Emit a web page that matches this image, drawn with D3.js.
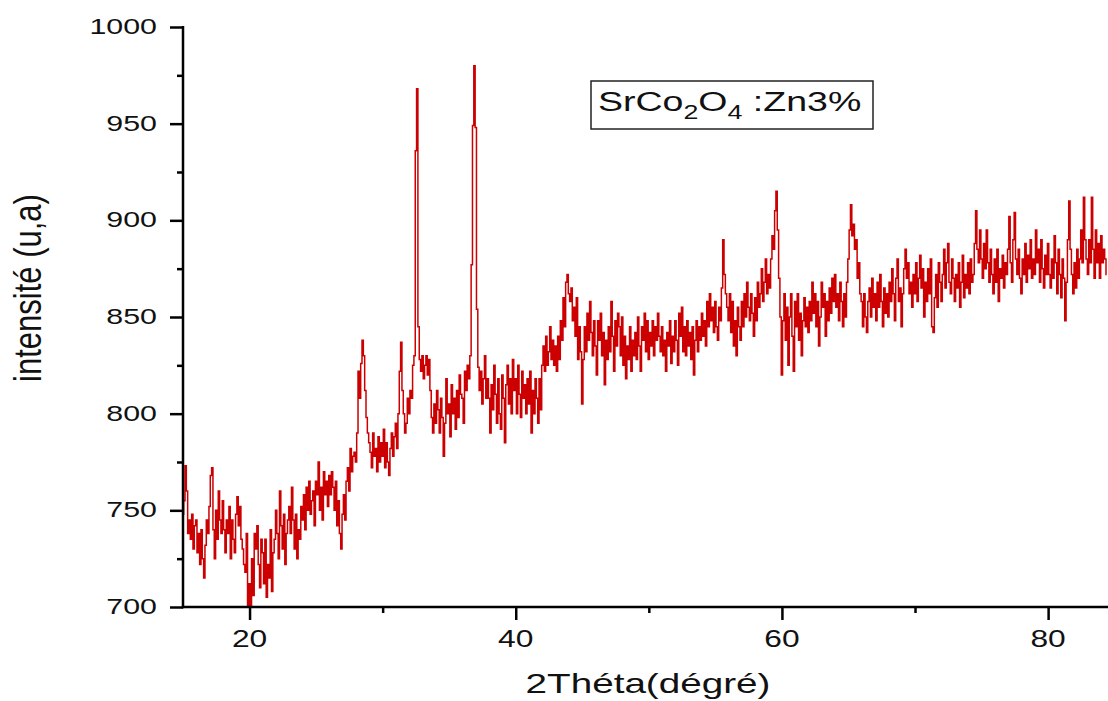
<!DOCTYPE html>
<html>
<head>
<meta charset="utf-8">
<script src="https://cdn.jsdelivr.net/npm/d3@7"></script>
<style>
  html, body { margin: 0; padding: 0; background: #fff; }
  svg { display: block; }
  text { font-family: "Liberation Sans", Arial, sans-serif; fill: #111; }
</style>
</head>
<body>
<svg id="chart" width="1108" height="701"></svg>
<script>
// ---- data, one row per degree, step 0.1 ----
const xStart = 15.0;
const xStep = 0.1;
const intensity = [
  748, 755, 773, 760, 738, 745, 735, 748, 730, 742,  // 15
  745, 728, 738, 722, 740, 725, 715, 732, 745, 738,  // 16
  752, 768, 772, 740, 725, 750, 735, 760, 745, 738,  // 17
  755, 740, 728, 745, 738, 752, 725, 745, 735, 728,  // 18
  748, 757, 742, 752, 735, 730, 722, 718, 738, 700,  // 19
  712, 698, 725, 706, 738, 730, 742, 722, 710, 735,  // 20
  728, 712, 735, 705, 722, 715, 740, 708, 728, 735,  // 21
  750, 738, 725, 760, 742, 730, 748, 722, 738, 745,  // 22
  752, 738, 762, 745, 730, 748, 725, 740, 735, 752,  // 23
  745, 758, 740, 762, 750, 765, 748, 755, 760, 742,  // 24
  765, 758, 775, 750, 762, 745, 770, 758, 765, 752,  // 25
  768, 758, 770, 762, 750, 765, 742, 755, 738, 730,  // 26
  748, 758, 745, 765, 772, 760, 782, 770, 778, 780,  // 27
  775, 790, 822, 808, 826, 838, 830, 812, 798, 790,  // 28
  785, 780, 772, 790, 778, 782, 770, 788, 775, 785,  // 29
  778, 792, 772, 785, 775, 768, 782, 790, 778, 788,  // 30
  795, 782, 800, 822, 837, 812, 800, 790, 795, 808,  // 31
  800, 812, 808, 825, 830, 936, 968, 845, 828, 822,  // 32
  830, 818, 825, 830, 820, 828, 812, 798, 790, 805,  // 33
  795, 812, 802, 790, 808, 798, 778, 795, 818, 800,  // 34
  805, 788, 815, 800, 808, 792, 812, 798, 820, 810,  // 35
  808, 795, 822, 812, 825, 818, 830, 877, 949, 980,  // 36
  948, 854, 824, 812, 822, 805, 818, 830, 808, 818,  // 37
  808, 790, 815, 802, 825, 810, 795, 818, 800, 792,  // 38
  820, 808, 785, 815, 825, 805, 818, 800, 828, 812,  // 39
  818, 800, 825, 810, 798, 822, 808, 815, 800, 818,  // 40
  805, 822, 790, 812, 800, 818, 808, 795, 818, 802,  // 41
  825, 835, 822, 840, 825, 832, 845, 828, 838, 825,  // 42
  835, 822, 840, 828, 848, 838, 860, 845, 868, 872,  // 43
  862, 858, 865, 848, 855, 840, 860, 828, 845, 832,  // 44
  805, 828, 845, 832, 852, 838, 858, 842, 830, 848,  // 45
  835, 820, 848, 838, 852, 830, 842, 815, 838, 828,  // 46
  845, 832, 858, 840, 822, 848, 835, 852, 845, 830,  // 47
  850, 825, 840, 818, 835, 828, 845, 822, 838, 830,  // 48
  842, 828, 850, 835, 822, 845, 838, 852, 832, 848,  // 49
  828, 842, 835, 848, 830, 845, 838, 852, 840, 832,  // 50
  845, 830, 838, 822, 842, 835, 848, 826, 840, 832,  // 51
  848, 838, 825, 852, 840, 855, 832, 845, 830, 848,  // 52
  835, 842, 828, 845, 820, 838, 848, 832, 845, 838,  // 53
  852, 840, 848, 835, 858, 845, 862, 848, 855, 842,  // 54
  858, 845, 838, 855, 848, 865, 890, 872, 862, 855,  // 55
  848, 862, 842, 858, 835, 848, 830, 855, 845, 838,  // 56
  858, 845, 862, 850, 868, 855, 848, 862, 852, 840,  // 57
  860, 848, 868, 855, 862, 875, 858, 868, 880, 862,  // 58
  872, 865, 880, 892, 885, 905, 915, 895, 870, 850,  // 59
  820, 848, 862, 838, 855, 825, 850, 862, 840, 822,  // 60
  858, 845, 862, 838, 852, 830, 848, 860, 845, 855,  // 61
  842, 858, 848, 868, 852, 862, 845, 858, 835, 850,  // 62
  868, 855, 862, 840, 858, 848, 865, 852, 870, 858,  // 63
  872, 855, 862, 848, 868, 858, 845, 862, 850, 868,  // 64
  880, 895, 908, 892, 898, 885, 890, 870, 878, 862,  // 65
  858, 845, 862, 850, 842, 858, 865, 850, 870, 855,  // 66
  862, 848, 868, 855, 872, 858, 845, 865, 852, 862,  // 67
  850, 868, 858, 875, 862, 848, 870, 880, 858, 865,  // 68
  845, 862, 875, 885, 870, 878, 862, 868, 855, 872,  // 69
  862, 878, 858, 870, 882, 865, 875, 850, 868, 858,  // 70
  875, 862, 880, 845, 842, 860, 872, 855, 878, 868,  // 71
  858, 872, 885, 865, 878, 888, 868, 862, 880, 870,  // 72
  858, 872, 865, 878, 855, 868, 882, 860, 872, 865,  // 73
  878, 862, 880, 868, 872, 888, 905, 885, 878, 895,  // 74
  880, 870, 888, 875, 895, 878, 868, 885, 872, 862,  // 75
  880, 868, 885, 858, 875, 870, 882, 865, 878, 872,  // 76
  885, 902, 878, 868, 890, 904, 880, 872, 885, 870,  // 77
  862, 880, 872, 888, 868, 882, 875, 890, 870, 880,  // 78
  872, 895, 878, 885, 868, 890, 875, 865, 882, 872,  // 79
  888, 872, 865, 880, 870, 892, 878, 862, 885, 872,  // 80
  860, 880, 870, 848, 868, 890, 910, 885, 872, 862,  // 81
  878, 865, 885, 870, 880, 895, 878, 912, 890, 880,  // 82
  872, 890, 878, 912, 885, 870, 895, 878, 888, 870,  // 83
  892, 878, 885, 880, 872                            // 84
];
const twoTheta = intensity.map((_, i) => +(xStart + i * xStep).toFixed(2));
const xMajorTicks = [20, 40, 60, 80];
const xMinorTicks = [30, 50, 70];
const yMajorTicks = [700, 750, 800, 850, 900, 950, 1000];
const yMinorTicks = [725, 775, 825, 875, 925, 975];
const xTitle = "2Théta(dégré)";
const yTitle = "intensité (u,a)";

// ---- layout ----
const svg = d3.select("#chart");
const mLeft = 183, mRight = 1108, mTop = 27, mBottom = 607;
const SX = 1.38; // horizontal stretch of the reference text

const x = d3.scaleLinear().domain([15, 84.5]).range([mLeft, mRight]);
const y = d3.scaleLinear().domain([700, 1000]).range([mBottom, mTop]);

svg.append("defs").append("clipPath").attr("id", "plotclip")
  .append("rect").attr("x", mLeft).attr("y", mTop - 5)
  .attr("width", mRight - mLeft + 10).attr("height", mBottom - mTop + 5);

// data line
const line = d3.line()
  .x((d, i) => x(twoTheta[i]))
  .y(d => y(d))
  .curve(d3.curveStep);

svg.append("path")
  .datum(intensity)
  .attr("clip-path", "url(#plotclip)")
  .attr("fill", "none")
  .attr("stroke", "#cc0000")
  .attr("stroke-width", 1.5)
  .attr("d", line);

// axes
const axisColor = "#000";
const yAxisMajor = d3.axisLeft(y).tickValues(yMajorTicks).tickSize(13).tickFormat("");
const yAxisMinor = d3.axisLeft(y).tickValues(yMinorTicks).tickSize(6).tickFormat("");
svg.append("g").attr("transform", `translate(${mLeft},0)`).call(yAxisMajor);
svg.append("g").attr("transform", `translate(${mLeft},0)`).call(yAxisMinor);
const xAxisMajor = d3.axisBottom(x).tickValues(xMajorTicks).tickSize(13).tickFormat("");
const xAxisMinor = d3.axisBottom(x).tickValues(xMinorTicks).tickSize(6).tickFormat("");
svg.append("g").attr("transform", `translate(0,${mBottom})`).call(xAxisMajor);
svg.append("g").attr("transform", `translate(0,${mBottom})`).call(xAxisMinor);

svg.selectAll(".domain").remove();
svg.selectAll(".tick line").attr("stroke", axisColor).attr("stroke-width", 2.5);

svg.append("line").attr("x1", mLeft).attr("x2", mLeft).attr("y1", mTop - 1).attr("y2", mBottom + 1.25)
  .attr("stroke", axisColor).attr("stroke-width", 2.5);
svg.append("line").attr("x1", mLeft - 1.25).attr("x2", mRight).attr("y1", mBottom).attr("y2", mBottom)
  .attr("stroke", axisColor).attr("stroke-width", 2.5);

// tick labels (stretched horizontally like the reference)
yMajorTicks.forEach(v => {
  svg.append("g").attr("transform", `translate(157,${y(v) + 7}) scale(${SX},1)`)
    .append("text").attr("text-anchor", "end").attr("font-size", 22).text(v);
});
xMajorTicks.forEach(v => {
  svg.append("g").attr("transform", `translate(${x(v)},647) scale(${SX},1)`)
    .append("text").attr("text-anchor", "middle").attr("font-size", 23).text(v);
});

// axis titles
svg.append("g").attr("transform", `translate(648,693) scale(${SX},1)`)
  .append("text").attr("text-anchor", "middle").attr("font-size", 28).text(xTitle);
svg.append("g").attr("transform", `translate(41,288) rotate(-90) scale(1,1.25)`)
  .append("text").attr("text-anchor", "middle").attr("font-size", 31).text(yTitle);

// legend box
svg.append("rect").attr("x", 591).attr("y", 81).attr("width", 282).attr("height", 48)
  .attr("fill", "#fff").attr("stroke", "#222").attr("stroke-width", 1.5);
const lt = svg.append("g").attr("transform", `translate(598,111) scale(1.34,1)`)
  .append("text").attr("font-size", 28);
lt.append("tspan").text("SrCo");
lt.append("tspan").attr("font-size", 20).attr("dy", 8).text("2");
lt.append("tspan").attr("dy", -8).text("O");
lt.append("tspan").attr("font-size", 20).attr("dy", 8).text("4");
lt.append("tspan").attr("dy", -8).text(" :Zn3%");
</script>
</body>
</html>
